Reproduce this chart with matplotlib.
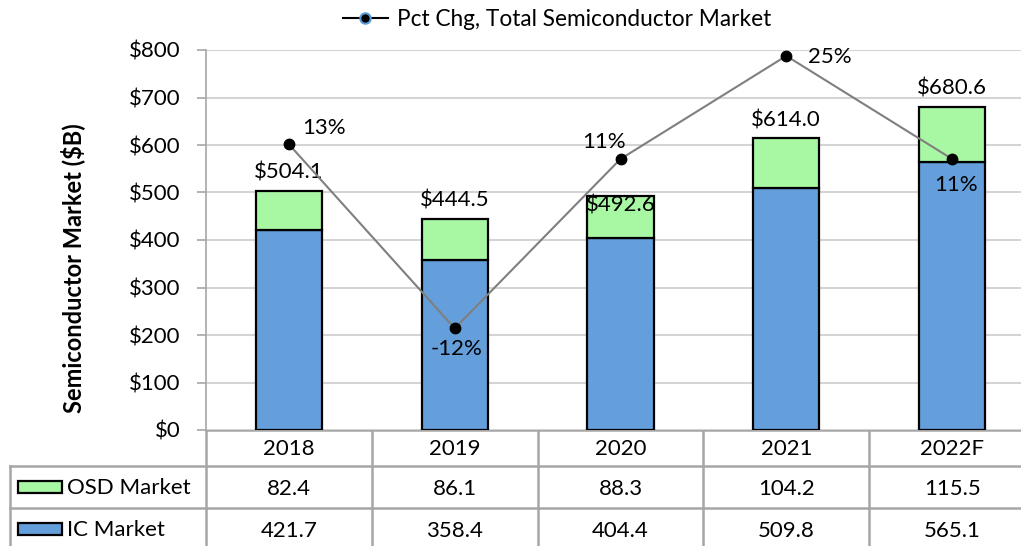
import numpy as np
import matplotlib.pyplot as plt
from matplotlib.patches import Rectangle
from matplotlib.lines import Line2D

plt.rcParams['font.family'] = ['Lato', 'DejaVu Sans']

years = ['2018', '2019', '2020', '2021', '2022F']
ic = [421.7, 358.4, 404.4, 509.8, 565.1]
osd = [82.4, 86.1, 88.3, 104.2, 115.5]
total = [504.1, 444.5, 492.6, 614.0, 680.6]
pct = [13, -12, 11, 25, 11]
yticks = [0, 100, 200, 300, 400, 500, 600, 700, 800]

c_ic = '#659fdb'
c_osd = '#a8f7a3'
grid_c = '#d4d4d4'
tbl_c = '#a6a6a6'
fs = 16

W, H = 1021, 546
fig = plt.figure(figsize=(W / 100, H / 100), dpi=100)

# pixel box of plot area
L, R, T, B = 206, 1035, 50, 430
ax = fig.add_axes([L / W, 1 - B / H, (R - L) / W, (B - T) / H])
x = np.arange(len(years))
ax.bar(x, ic, 0.4, color=c_ic, edgecolor='black', linewidth=1.6, zorder=3)
ax.bar(x, osd, 0.4, bottom=ic, color=c_osd, edgecolor='black', linewidth=1.6, zorder=3)
ax.set_xlim(-0.5, len(years) - 0.5)
ax.set_ylim(0, 800)
ax.set_yticks(yticks)
ax.set_yticklabels(['$%d' % v for v in yticks], fontsize=fs)
ax.set_xticks([])
ax.yaxis.grid(True, color=grid_c, linewidth=1.5, zorder=0)
for s in ['top', 'right', 'bottom']:
    ax.spines[s].set_visible(False)
ax.spines['left'].set_color(tbl_c)
ax.spines['left'].set_linewidth(1.2)
ax.tick_params(axis='y', length=6.5, color=tbl_c, width=1.2, pad=12)
ax.set_ylabel('Semiconductor Market ($B)', fontsize=17, fontweight='bold')
ax.yaxis.set_label_coords(-0.146, 0.426)

# total labels
tot_off = [13, 13, -6.5, 13, 13]
for i, t in enumerate(total):
    ax.annotate('$%.1f' % t, (x[i], t), xytext=(0, tot_off[i]), textcoords='offset points',
                ha='center', va='center', fontsize=fs, zorder=6)

# percent change line on hidden secondary axis
ax2 = ax.twinx()
ax2.set_ylim(-25.8, 25.8)
ax2.axis('off')
ax2.plot(x, pct, color='#7f7f7f', linewidth=1.5, marker='o', markersize=7.5,
         markerfacecolor='black', markeredgecolor='black', zorder=5)
pct_off = [(25, 12), (1.5, -15), (-12, 12), (31, -1), (3, -19)]
for i, p in enumerate(pct):
    ax2.annotate('%d%%' % p, (x[i], p), xytext=pct_off[i], textcoords='offset points',
                 ha='center', va='center', fontsize=fs, zorder=6)

# legend
h = Line2D([], [], color='black', linewidth=1.5, marker='o', markersize=7.5,
           markerfacecolor='black', markeredgecolor='#5b9bd5', markeredgewidth=1.5)
fig.legend([h], ['Pct Chg, Total Semiconductor Market'], loc='center',
           bbox_to_anchor=(557 / W, 1 - 19 / H), frameon=False, fontsize=16.3,
           handlelength=2.0, handletextpad=0.4)

# data table below the chart
tx = fig.add_axes([0, 0, 1, 1], zorder=-1)
tx.set_xlim(0, W)
tx.set_ylim(H, 0)
tx.axis('off')
colw = (R - L) / len(years)
row_y = [430, 466, 508, 550]
lw = 1.8
tx.plot([L, W], [row_y[0]] * 2, color=tbl_c, lw=lw)
for yy in row_y[1:3]:
    tx.plot([10, W], [yy, yy], color=tbl_c, lw=lw)
tx.plot([10, 10], [row_y[1], H], color=tbl_c, lw=lw)
for k in range(len(years)):
    xx = L + k * colw
    tx.plot([xx, xx], [row_y[0], H], color=tbl_c, lw=lw)
for k, yv in enumerate(years):
    cx = L + (k + 0.5) * colw
    tx.text(cx, 449, yv, ha='center', va='center', fontsize=fs)
    tx.text(cx, 489, '%.1f' % osd[k], ha='center', va='center', fontsize=fs)
    tx.text(cx, 531, '%.1f' % ic[k], ha='center', va='center', fontsize=fs)

rows = [('OSD Market', c_osd, 487), ('IC Market', c_ic, 529)]
for name, col, cy in rows:
    tx.add_patch(Rectangle((18, cy - 6), 44, 12, facecolor=col, edgecolor='black', lw=1.6))
    tx.text(67, cy + 1, name, ha='left', va='center', fontsize=fs)

fig.savefig('out.png', dpi=100)
